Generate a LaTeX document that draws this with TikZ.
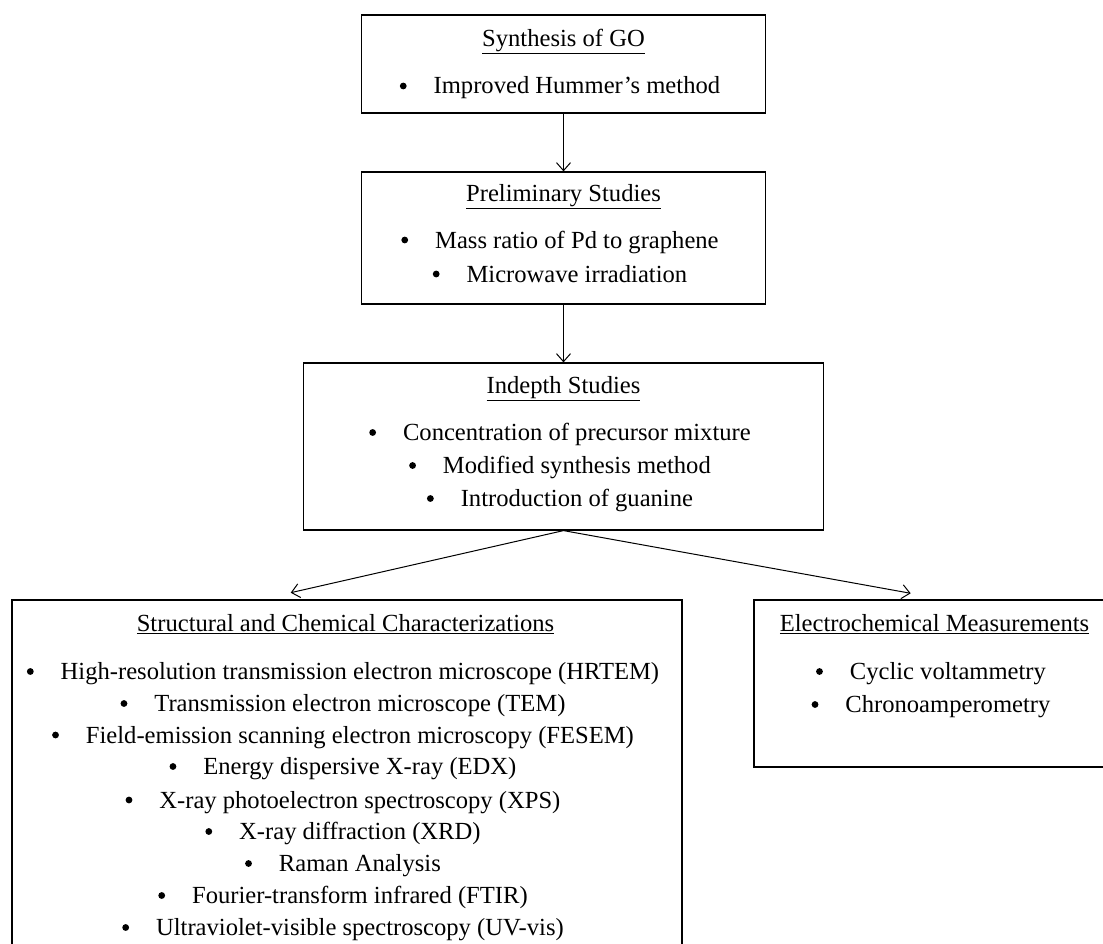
\documentclass[tikz,border=0pt]{standalone}
\usepackage{fontspec}
\setmainfont{Liberation Serif}
\usetikzlibrary{arrows.meta}
\newcommand\mydot{\tikz[baseline=-8pt]\fill[black] (0,0) circle[radius=3.4pt];}
\newcommand\myb[1]{\mydot\hspace{27pt}#1}
\begin{document}
\begin{tikzpicture}[x=1pt,y=-1pt,
  box/.style={draw, line width=1.2pt, rectangle, inner sep=0pt},
  lbl/.style={font=\fontsize{24.6}{30}\selectfont, inner sep=0pt, anchor=base},
  arr/.style={line width=1pt, -{Straight Barb[length=8pt,width=14pt,line width=1pt]}}]
\useasboundingbox (0,0) rectangle (1103,944);
% boxes
\node[box, minimum width=404pt, minimum height=98pt] (syn) at (563.5,64) {};
\node[box, minimum width=404pt, minimum height=132pt] (pre) at (563.5,238) {};
\node[box, minimum width=520pt, minimum height=167pt] (ind) at (563.5,446.5) {};
\node[box, minimum width=670pt, minimum height=380pt] (str) at (347,790) {};
\node[box, minimum width=360pt, minimum height=167pt] (ele) at (934,683.5) {};
% texts box 1
\node[lbl] (t1) at (563.5,46.5) {\underline{Synthesis of GO}};
\node[lbl] (t1a) at (560,94) {\myb{Improved Hummer’s method}};
% box 2
\node[lbl] (t2) at (563.5,201.5) {\underline{Preliminary Studies}};
\node[lbl] (t2a) at (560,248) {\myb{Mass ratio of Pd to graphene}};
\node[lbl] (t2b) at (560,282) {\myb{Microwave irradiation}};
% box 3
\node[lbl] (t3) at (563.5,393.5) {\underline{Indepth Studies}};
\node[lbl] (t3a) at (560,440.5) {\myb{Concentration of precursor mixture}};
\node[lbl] (t3b) at (560,473.5) {\myb{Modified synthesis method}};
\node[lbl] (t3c) at (560,506.5) {\myb{Introduction of guanine}};
% struct
\node[lbl] (t4) at (345.5,631.5) {\underline{Structural and Chemical Characterizations}};
\node[lbl] (t4a) at (343,679.5) {\myb{High-resolution transmission electron microscope (HRTEM)}};
\node[lbl] (t4b) at (343,711.5) {\myb{Transmission electron microscope (TEM)}};
\node[lbl] (t4c) at (343,743) {\myb{Field-emission scanning electron microscopy (FESEM)}};
\node[lbl] (t4d) at (343,774.5) {\myb{Energy dispersive X-ray (EDX)}};
\node[lbl] (t4e) at (343,808) {\myb{X-ray photoelectron spectroscopy (XPS)}};
\node[lbl] (t4f) at (343,839.5) {\myb{X-ray diffraction (XRD)}};
\node[lbl] (t4g) at (343,871.5) {\myb{Raman Analysis}};
\node[lbl] (t4h) at (343,903.5) {\myb{Fourier-transform infrared (FTIR)}};
\node[lbl] (t4i) at (343,935.5) {\myb{Ultraviolet-visible spectroscopy (UV-vis)}};
% electro
\node[lbl] (t5) at (934.5,631.5) {\underline{Electrochemical Measurements}};
\node[lbl] (t5a) at (931,679.5) {\myb{Cyclic voltammetry}};
\node[lbl] (t5b) at (931,712.5) {\myb{Chronoamperometry}};
% arrows
\coordinate (lt) at (290.7,592.7);
\coordinate (rt) at (910.7,593.3);
\draw[arr] (syn.south) -- (pre.north);
\draw[arr] (pre.south) -- (ind.north);
\draw[arr] (ind.south) -- (lt);
\draw[arr] (ind.south) -- (rt);
\end{tikzpicture}
\end{document}
